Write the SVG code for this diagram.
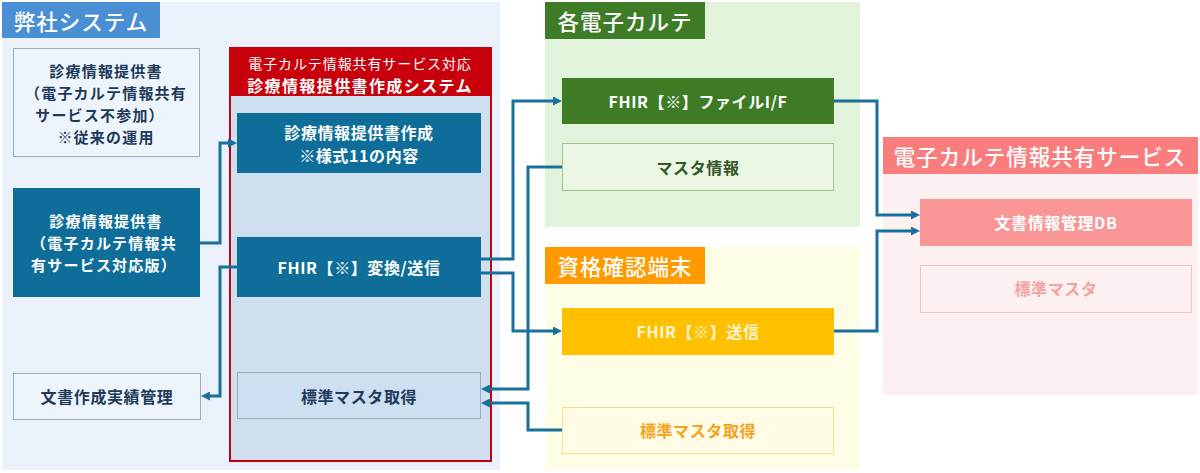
<svg xmlns="http://www.w3.org/2000/svg" width="1200" height="473" viewBox="0 0 1200 473">
<defs>
<style>
text{font-family:"Noto Sans CJK JP","Noto Sans",sans-serif;text-anchor:middle;dominant-baseline:central;}
.t{font-size:21.5px;font-weight:500;fill:#fff;letter-spacing:1px;}
.b{font-size:16px;font-weight:700;letter-spacing:0.6px;}
.m{font-size:15px;font-weight:700;letter-spacing:1.2px;}
.w{fill:#fff;}
.c{fill:none;stroke:#19709c;stroke-width:3;marker-end:url(#ah);}
</style>
<marker id="ah" viewBox="0 0 10 10" refX="5" refY="5" markerWidth="9" markerHeight="9" markerUnits="userSpaceOnUse" orient="auto">
<path d="M0,0 L10,5 L0,10 z" fill="#19709c"/>
</marker>
</defs>
<rect width="1200" height="473" fill="#fff"/>

<g id="panel-own">
<rect x="2" y="2" width="498" height="468" fill="#eaf1fa"/>
<rect x="2" y="2" width="158" height="36" fill="#4a8fd3"/>
<text class="t" x="81" y="20">弊社システム</text>
</g>

<g id="panel-emr">
<rect x="545" y="2" width="315" height="225" fill="#e2f3db"/>
<rect x="545" y="2" width="160" height="37" fill="#3e7c28"/>
<text class="t" x="625" y="20">各電子カルテ</text>
</g>

<g id="panel-terminal">
<rect x="545" y="247" width="315" height="223" fill="#fefde6"/>
<rect x="545" y="247" width="160" height="37" fill="#ff9a00"/>
<text class="t" x="625" y="265">資格確認端末</text>
</g>

<g id="panel-service">
<rect x="883" y="137" width="315" height="258" fill="#fdf0f0"/>
<rect x="883" y="137" width="315" height="37" fill="#fa7d7d"/>
<text class="t" x="1040" y="155">電子カルテ情報共有サービス</text>
</g>

<g id="node-nonparticipant">
<rect x="13.5" y="48.5" width="186" height="108" fill="#eef4fb" stroke="#9aabb9"/>
<text class="m" fill="#1e3a5a"><tspan x="106" y="70">診療情報提供書</tspan><tspan x="106" y="92">（電子カルテ情報共有</tspan><tspan x="100" y="114">サービス不参加）</tspan><tspan x="106" y="136">※従来の運用</tspan></text>
</g>

<g id="node-participant">
<rect x="13" y="188" width="187" height="109" fill="#0e6e99"/>
<text class="m w"><tspan x="106" y="220">診療情報提供書</tspan><tspan x="104" y="242">（電子カルテ情報共</tspan><tspan x="104" y="264">有サービス対応版）</tspan></text>
</g>

<g id="node-record">
<rect x="13.5" y="373.5" width="187" height="46" fill="#eef4fb" stroke="#9aabb9"/>
<text class="b" fill="#1e3a5a" x="107" y="396">文書作成実績管理</text>
</g>

<g id="node-system">
<rect x="230" y="48" width="261" height="413" fill="#cfdff0" stroke="#c4000c" stroke-width="2"/>
<rect x="230" y="48" width="261" height="48" fill="#c8000b"/>
<text fill="#fff"><tspan x="360" y="62.5" style="font-size:14px;letter-spacing:0.9px;font-weight:400">電子カルテ情報共有サービス対応</tspan><tspan x="360" y="84.5" style="font-size:16px;letter-spacing:1.4px;font-weight:700">診療情報提供書作成システム</tspan></text>
</g>

<g id="node-create">
<rect x="237" y="113" width="244" height="60" fill="#0e6e99"/>
<text class="b w"><tspan x="359" y="131.5">診療情報提供書作成</tspan><tspan x="359" y="154.5">※様式11の内容</tspan></text>
</g>

<g id="node-convert">
<rect x="237" y="237" width="244" height="60" fill="#0e6e99"/>
<text class="b w" x="359" y="267">FHIR【※】変換/送信</text>
</g>

<g id="node-getmaster">
<rect x="237.5" y="372.5" width="243" height="46" fill="#cddff0" stroke="#9aabb9"/>
<text class="b" fill="#1e3a5a" x="359" y="396">標準マスタ取得</text>
</g>

<g id="node-fileif">
<rect x="562" y="78" width="272" height="46" fill="#3d7c25"/>
<text class="b w" x="698" y="101">FHIR【※】ファイルI/F</text>
</g>

<g id="node-masterinfo">
<rect x="562.5" y="143.5" width="271" height="47" fill="#eaf5e2" stroke="#a2c48e"/>
<text class="b" fill="#35552a" x="698" y="167">マスタ情報</text>
</g>

<g id="node-send">
<rect x="562" y="308" width="272" height="47" fill="#ffc000"/>
<text class="b" fill="#fff6d6" x="698" y="331">FHIR【※】送信</text>
</g>

<g id="node-termmaster">
<rect x="562.5" y="407.5" width="271" height="46" fill="#fffbe5" stroke="#f6dc8b"/>
<text class="b" fill="#f5a21e" x="698" y="430">標準マスタ取得</text>
</g>

<g id="node-db">
<rect x="920" y="199" width="272" height="47" fill="#fb9696"/>
<text class="b w" x="1056" y="222">文書情報管理DB</text>
</g>

<g id="node-stdmaster">
<rect x="920.5" y="265.5" width="271" height="47" fill="#fdf0f0" stroke="#f6c3c3"/>
<text class="b" fill="#f2a2a2" x="1056" y="288">標準マスタ</text>
</g>

<g id="connectors">
<path class="c" d="M200,243 H220 V143 H232.5"/>
<path class="c" d="M237,267 H220 V396 H205.5"/>
<path class="c" d="M481,259 H513 V101 H557.5"/>
<path class="c" d="M481,273 H513 V331 H557.5"/>
<path class="c" d="M562,167 H528 V389 H485.5"/>
<path class="c" d="M562,430 H528 V403 H485.5"/>
<path class="c" d="M834,101 H877 V215 H915.5"/>
<path class="c" d="M834,331 H877 V231 H915.5"/>
</g>
</svg>
